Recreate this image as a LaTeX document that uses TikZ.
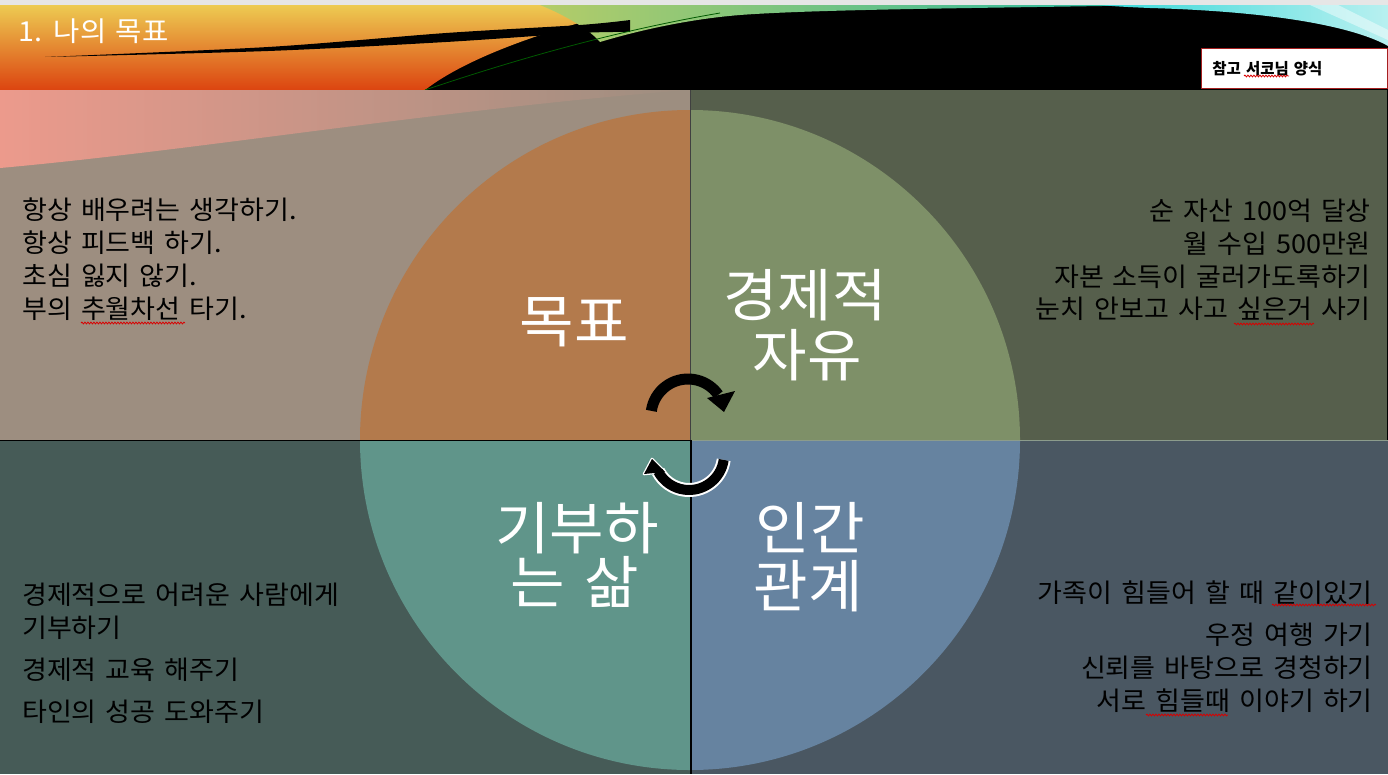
\documentclass[tikz,border=0pt]{standalone}
\usepackage{fontspec}
\setmainfont{Noto Sans CJK KR}
\newfontfamily\listfont[FakeStretch=1.04, WordSpace=1.9]{Noto Sans CJK KR}
\newfontfamily\titlefont[FakeStretch=1.04, WordSpace=1.5]{Noto Sans CJK KR}
\usetikzlibrary{decorations.pathmorphing}
\definecolor{topgray}{HTML}{E6E6E6}
\definecolor{tanbg}{HTML}{9D8E80}
\definecolor{pinkov}{HTML}{EC9A8C}
\definecolor{orangeq}{HTML}{B37A4C}
\definecolor{olivebg}{HTML}{565F4C}
\definecolor{greenq}{HTML}{7E9068}
\definecolor{tealbg}{HTML}{465B57}
\definecolor{tealq}{HTML}{60958A}
\definecolor{slatebg}{HTML}{4A5762}
\definecolor{blueq}{HTML}{6683A0}
\definecolor{warmtop}{HTML}{EDCB52}
\definecolor{warmmid}{HTML}{E6982E}
\definecolor{warmbot}{HTML}{DC4410}
\definecolor{gra}{HTML}{B4CC68}
\definecolor{grb}{HTML}{2EA050}
\definecolor{grc}{HTML}{22B8A4}
\definecolor{cya}{HTML}{38D8D8}
\definecolor{cyb}{HTML}{B8F0F0}
\definecolor{boxred}{HTML}{A52020}
\definecolor{lightline}{HTML}{8C9C8C}
\begin{document}
\begin{tikzpicture}[x=1pt,y=-1pt,
  listtxt/.style={inner sep=0pt, font=\listfont\fontsize{26}{33}\selectfont, text=black},
  bigtxt/.style={inner sep=0pt, font=\listfont\fontsize{57}{60}\selectfont, text=white},
  squig/.style={draw=red!85!black, line width=0.8pt, decorate, decoration={snake, amplitude=0.9pt, segment length=3pt}},
  arrowblk/.style={draw=black, line width=11pt},
]
\useasboundingbox (0,0) rectangle (1388,774);
% ---- banner ----
\fill[topgray] (0,0) rectangle (1388,6);
\fill[black] (0,5) rectangle (1388,90);
\shade[top color=warmtop, middle color=warmmid, bottom color=warmbot]
  (0,5) -- (650,5) .. controls (560,25) and (470,55) .. (425,90) -- (0,90) -- cycle;
\shade[left color=gra, middle color=grb, right color=grc]
  (540,5) -- (1160,5) .. controls (1000,8) and (820,9) .. (740,15)
  .. controls (690,19) and (640,30) .. (600,42) .. controls (590,30) and (565,15) .. (540,5) -- cycle;
\fill[black] plot[smooth] coordinates {(45,57) (268,47) (446,33) (580,25) (630,20)}
  -- plot[smooth] coordinates {(630,32) (580,33) (446,42) (268,51) (45,57)} -- cycle;
\draw[green!35!black, line width=0.8pt] (425,90) .. controls (520,58) and (620,30) .. (720,13);
\shade[left color=cya, right color=cyb]
  (1100,5) -- (1388,5) -- (1388,46) .. controls (1360,30) and (1290,12) .. (1150,8)
  .. controls (1125,7) and (1110,6) .. (1100,5) -- cycle;
\fill[white, opacity=0.45] (1310,5) -- (1338,5) -- (1388,30) -- (1388,40) -- cycle;
\node[inner sep=0pt, anchor=west, text=white, font=\titlefont\fontsize{27.5}{30}\selectfont] (title) at (18,31) {1. 나의 목표};
\node[draw=boxred, line width=1.6pt, fill=white, anchor=north west, minimum height=40pt,
  text width=164pt, inner xsep=11pt, align=left, font=\fontsize{15.5}{18}\selectfont\bfseries] (ref) at (1200.5,47.5) {참고 서코님 양식};
% ---- quadrants ----
\begin{scope}
  \clip (0,90) rectangle (690,440);
  \fill[tanbg] (0,90) rectangle (690,440);
  \shade[left color=pinkov, right color=tanbg] (0,90) -- (690,90) .. controls (450,108) and (200,150) .. (0,168) -- cycle;
  \fill[orangeq] (690,440) circle[radius=330];
\end{scope}
\begin{scope}
  \clip (690,90) rectangle (1388,440);
  \fill[olivebg] (690,90) rectangle (1388,440);
  \fill[greenq] (690,440) circle[radius=330];
\end{scope}
\begin{scope}
  \clip (0,440) rectangle (690,774);
  \fill[tealbg] (0,440) rectangle (690,774);
  \fill[tealq] (690,440) circle[radius=330];
\end{scope}
\begin{scope}
  \clip (690,440) rectangle (1388,774);
  \fill[slatebg] (690,440) rectangle (1388,774);
  \fill[blueq] (690,440) circle[radius=330];
\end{scope}
\draw[black!75, line width=1.5pt] (690.5,90) -- (690.5,440);
\draw[black, line width=1.6pt] (691,440) -- (691,774);
\draw[black, line width=1.8pt] (0,440.5) -- (691,440.5);
\draw[lightline, line width=1.6pt] (692,440.5) -- (1388,440.5);
\draw[black, line width=1.5pt] (1387.3,90) -- (1387.3,440);
% ---- texts ----
\node[listtxt, anchor=west] (tl1) at (22,210) {항상 배우려는 생각하기.};
\node[listtxt, anchor=west] (tl2) at (22,243) {항상 피드백 하기.};
\node[listtxt, anchor=west] (tl3) at (22,276) {초심 잃지 않기.};
\node[listtxt, anchor=west] (tl4) at (22,309) {부의 추월차선 타기.};
\node[listtxt, anchor=east] (tr1) at (1371,211) {순 자산 100억 달상};
\node[listtxt, anchor=east] (tr2) at (1371,244) {월 수입 500만원};
\node[listtxt, anchor=east] (tr3) at (1371,277) {자본 소득이 굴러가도록하기};
\node[listtxt, anchor=east] (tr4) at (1371,309) {눈치 안보고 사고 싶은거 사기};
\node[listtxt, anchor=west] (bl1) at (22,595) {경제적으로 어려운 사람에게};
\node[listtxt, anchor=west] (bl2) at (22,628) {기부하기};
\node[listtxt, anchor=west] (bl3) at (22,670) {경제적 교육 해주기};
\node[listtxt, anchor=west] (bl4) at (22,712) {타인의 성공 도와주기};
\node[listtxt, anchor=east] (br1) at (1373,593) {가족이 힘들어 할 때 같이있기};
\node[listtxt, anchor=east] (br2) at (1373,635) {우정 여행 가기};
\node[listtxt, anchor=east] (br3) at (1373,668) {신뢰를 바탕으로 경청하기};
\node[listtxt, anchor=east] (br4) at (1373,701) {서로 힘들때 이야기 하기};
% spell-check marks
\draw[squig] (81,323) -- (185,323);
\draw[squig] (1234,324) -- (1314,324);
\draw[squig] (1272,605) -- (1376,605);
\draw[squig] (1146,715) -- (1228,715);
\draw[squig] (1244,76) -- (1289,76);
% big labels
\node[bigtxt] (goal) at (574,322) {목표};
\node[bigtxt] (econ1) at (805,295) {경제적};
\node[bigtxt] (econ2) at (807,355) {자유};
\node[bigtxt] (give1) at (577,528) {기부하};
\node[bigtxt] (give2) at (575,582) {는 삶};
\node[bigtxt] (rel1) at (810,528) {인간};
\node[bigtxt] (rel2) at (808,586) {관계};
% ---- cycle arrows ----
\draw[arrowblk] (651.36,410.85) arc[start angle=188, end angle=325, radius=37];
\fill[black] (707,398) -- (735,391) -- (724,412) -- cycle;
\draw[white, line width=14pt] (723.66,459.87) arc[start angle=8, end angle=152, radius=35];
\draw[white, line width=2.6pt, line join=round, fill=white] (644,474) -- (665,472) -- (652,459) -- cycle;
\draw[black, line width=10pt] (723.66,459.87) arc[start angle=8, end angle=152, radius=35];
\fill[black] (644,474) -- (665,472) -- (652,459) -- cycle;
\end{tikzpicture}
\end{document}
